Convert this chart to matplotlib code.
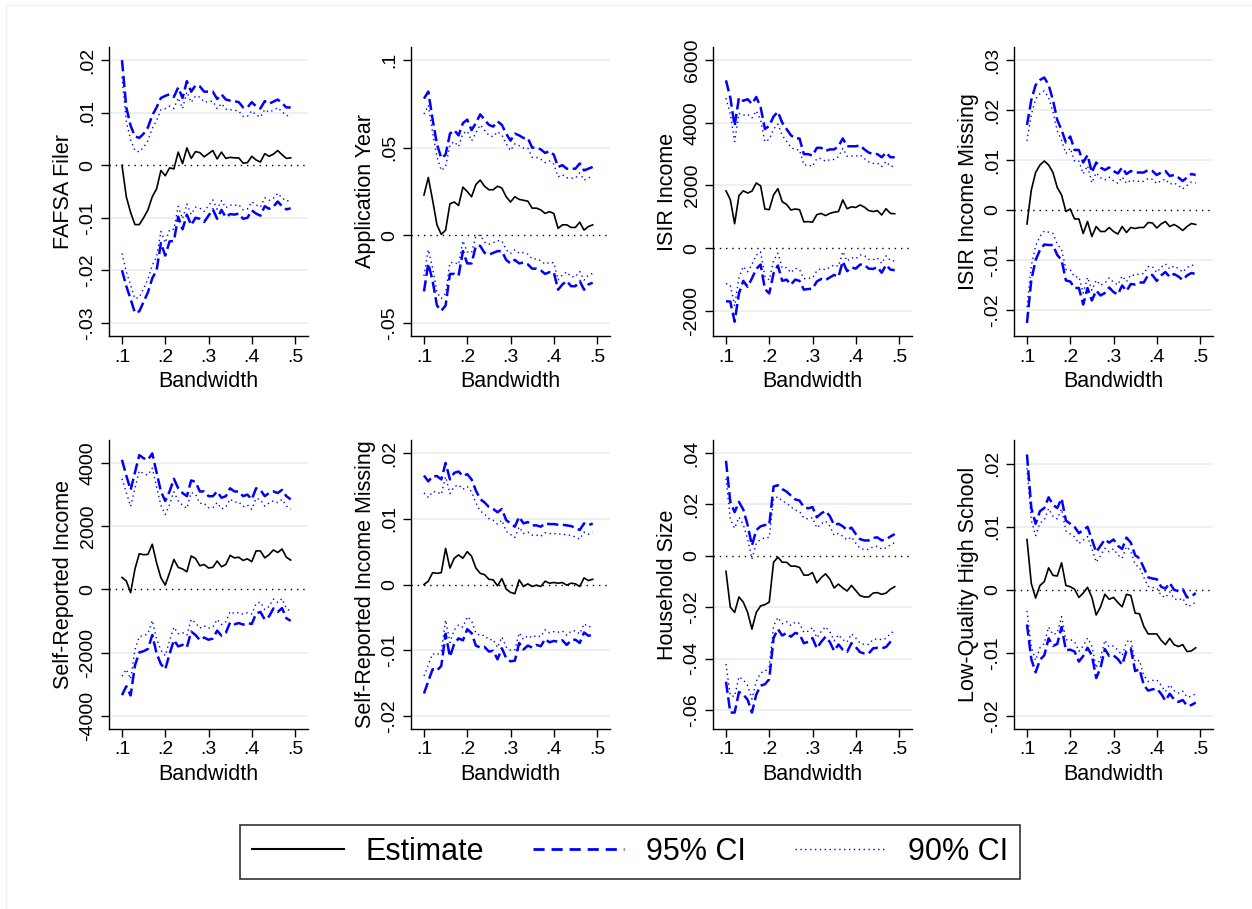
import numpy as np
import matplotlib
matplotlib.use("Agg")
import matplotlib.pyplot as plt
from matplotlib.lines import Line2D
from matplotlib.patches import Rectangle
from matplotlib.ticker import FuncFormatter

matplotlib.rcParams["font.family"] = ["Liberation Sans", "DejaVu Sans"]

BLUE = "#0000ff"
GRID = "#e8f0f2"

bandwidth = [0.10, 0.11, 0.12, 0.13, 0.14, 0.15, 0.16, 0.17, 0.18, 0.19,
             0.20, 0.21, 0.22, 0.23, 0.24, 0.25, 0.26, 0.27, 0.28, 0.29,
             0.30, 0.31, 0.32, 0.33, 0.34, 0.35, 0.36, 0.37, 0.38, 0.39,
             0.40, 0.41, 0.42, 0.43, 0.44, 0.45, 0.46, 0.47, 0.48, 0.49]

# estimate and half-width of the 95% CI
fafsa_est = [0.0, -0.006, -0.009, -0.0113, -0.0113, -0.010, -0.0085, -0.006, -0.0045, -0.001,
             -0.002, -0.0005, -0.0007, 0.0025, 0.0003, 0.0033, 0.0013, 0.0026, 0.0024, 0.0016,
             0.0022, 0.0028, 0.0012, 0.0025, 0.0013, 0.0015, 0.0014, 0.0014, 0.0004, 0.0005,
             0.0017, 0.001, 0.0006, 0.0022, 0.0017, 0.0021, 0.0028, 0.002, 0.0013, 0.0014]
fafsa_hw = [0.020, 0.017, 0.0165, 0.0168, 0.0165, 0.016, 0.0157, 0.0155, 0.0155, 0.0138,
            0.0152, 0.014, 0.0137, 0.0123, 0.0125, 0.0127, 0.0127, 0.0126, 0.0126, 0.0124,
            0.0118, 0.0112, 0.0114, 0.011, 0.0112, 0.0108, 0.0108, 0.0106, 0.0106, 0.0105,
            0.0103, 0.0102, 0.0102, 0.01, 0.01, 0.01, 0.0097, 0.0098, 0.0097, 0.0096]

appyear_est = [0.023, 0.033, 0.020, 0.006, 0.0005, 0.003, 0.018, 0.019, 0.017, 0.0275,
               0.025, 0.022, 0.029, 0.0315, 0.028, 0.026, 0.026, 0.028, 0.027, 0.022,
               0.019, 0.022, 0.0205, 0.020, 0.0195, 0.0155, 0.0155, 0.0145, 0.0125, 0.0135,
               0.0125, 0.004, 0.006, 0.006, 0.0045, 0.0045, 0.0075, 0.003, 0.005, 0.006]
appyear_hw = [0.055, 0.049, 0.046, 0.046, 0.0435, 0.043, 0.040, 0.041, 0.040, 0.0365,
              0.041, 0.038, 0.035, 0.0375, 0.038, 0.037, 0.036, 0.037, 0.036, 0.036,
              0.035, 0.036, 0.0365, 0.0355, 0.036, 0.0345, 0.0345, 0.0345, 0.0345, 0.0345,
              0.0335, 0.035, 0.034, 0.032, 0.0335, 0.0335, 0.0335, 0.034, 0.033, 0.033]

isir_est = [1830, 1550, 780, 1680, 1830, 1760, 1820, 2080, 1990, 1250,
            1230, 1700, 1900, 1480, 1400, 1220, 1250, 1230, 840, 850,
            830, 1070, 1110, 1040, 1110, 1150, 1170, 1540, 1260, 1320,
            1300, 1380, 1310, 1200, 1170, 1200, 1060, 1260, 1110, 1100]
isir_hw = [3520, 3250, 3120, 3120, 2870, 2990, 2780, 2740, 2510, 2550,
           2670, 2500, 2450, 2520, 2400, 2380, 2250, 2270, 2160, 2150,
           2120, 2130, 2090, 2060, 2040, 2000, 2080, 1960, 1990, 1930,
           1950, 1900, 1840, 1850, 1830, 1800, 1840, 1790, 1790, 1800]

isirmiss_est = [-0.0028, 0.004, 0.0075, 0.009, 0.0098, 0.009, 0.0075, 0.0045, 0.003, -0.0003,
                0.0002, -0.0018, -0.0018, -0.0047, -0.0023, -0.0053, -0.0033, -0.0043, -0.0043, -0.0035,
                -0.0043, -0.0048, -0.0033, -0.0045, -0.0035, -0.0037, -0.0035, -0.0035, -0.0025, -0.0026,
                -0.0036, -0.0028, -0.0023, -0.0033, -0.0029, -0.0034, -0.0041, -0.0033, -0.0027, -0.0029]
isirmiss_hw = [0.0198, 0.018, 0.0175, 0.017, 0.0167, 0.016, 0.0145, 0.0135, 0.013, 0.0138,
               0.0145, 0.0138, 0.0138, 0.0142, 0.0133, 0.0128, 0.0128, 0.0128, 0.0123, 0.012,
               0.0121, 0.0121, 0.0118, 0.0117, 0.0113, 0.0112, 0.011, 0.011, 0.0105, 0.0104,
               0.0106, 0.0103, 0.0101, 0.0101, 0.0099, 0.0099, 0.0099, 0.0098, 0.0099, 0.0099]

selfinc_est = [380, 270, -100, 650, 1130, 1100, 1110, 1430, 840, 370,
               140, 530, 950, 700, 650, 560, 1060, 980, 750, 790,
               680, 700, 900, 720, 790, 1080, 1000, 1020, 920, 970,
               880, 1220, 1220, 1000, 1100, 1250, 1170, 1280, 1020, 930]
selfinc_hw = [3720, 3330, 3250, 3050, 3120, 3050, 2990, 2870, 2860, 2730,
              2660, 2570, 2550, 2500, 2400, 2390, 2390, 2420, 2350, 2310,
              2270, 2250, 2200, 2180, 2160, 2120, 2100, 2080, 2030, 2030,
              1970, 1980, 1930, 1950, 1950, 1850, 1880, 1870, 1930, 1920]

selfmiss_est = [0.0, 0.0005, 0.0018, 0.0017, 0.0018, 0.0055, 0.0025, 0.004, 0.0045, 0.004,
                0.005, 0.0043, 0.0025, 0.0017, 0.0015, 0.0008, 0.0007, -0.0002, 0.0009, -0.0007,
                -0.0012, -0.0014, 0.0007, -0.0003, 0.0001, -0.0003, -0.0001, -0.0003, 0.0005, 0.0002,
                0.0003, 0.0002, 0.0003, -0.0001, 0.0002, 0.0001, -0.0003, 0.001, 0.0006, 0.0008]
selfmiss_hw = [0.0166, 0.0152, 0.0147, 0.0148, 0.0142, 0.013, 0.0135, 0.013, 0.0127, 0.0125,
               0.0118, 0.0117, 0.0118, 0.0113, 0.011, 0.011, 0.0108, 0.0112, 0.0106, 0.0105,
               0.0105, 0.0102, 0.0096, 0.0096, 0.0094, 0.0093, 0.0091, 0.0091, 0.0088, 0.009,
               0.0089, 0.0089, 0.0088, 0.0091, 0.0087, 0.0085, 0.0086, 0.0083, 0.0084, 0.0085]

hhsize_est = [-0.006, -0.020, -0.022, -0.016, -0.018, -0.022, -0.0285, -0.022, -0.0195, -0.019,
              -0.018, -0.0025, -0.0005, -0.0025, -0.0025, -0.004, -0.004, -0.0045, -0.0075, -0.0075,
              -0.0065, -0.0105, -0.0085, -0.007, -0.009, -0.0125, -0.011, -0.0125, -0.0137, -0.0115,
              -0.0135, -0.0155, -0.016, -0.016, -0.0145, -0.0143, -0.015, -0.0145, -0.013, -0.012]
hhsize_hw = [0.043, 0.041, 0.039, 0.037, 0.036, 0.034, 0.0325, 0.032, 0.031, 0.031,
             0.030, 0.0295, 0.028, 0.0285, 0.0275, 0.0275, 0.026, 0.026, 0.0265, 0.026,
             0.0255, 0.0255, 0.025, 0.0245, 0.0245, 0.0245, 0.0235, 0.024, 0.0237, 0.0225,
             0.022, 0.022, 0.022, 0.022, 0.0215, 0.0215, 0.021, 0.021, 0.0205, 0.0205]

lowq_est = [0.008, 0.001, -0.0013, 0.0007, 0.0013, 0.0035, 0.0023, 0.0022, 0.0043, 0.0007,
            0.0005, 0.0001, -0.0012, -0.0005, 0.0004, -0.0012, -0.004, -0.0027, -0.0007, -0.0015,
            -0.0012, -0.002, -0.0027, -0.0007, -0.0009, -0.0037, -0.0038, -0.0058, -0.007, -0.007,
            -0.007, -0.008, -0.0087, -0.0077, -0.0087, -0.009, -0.0087, -0.0098, -0.0097, -0.0092]
lowq_hw = [0.0135, 0.012, 0.0118, 0.0118, 0.0117, 0.0112, 0.0112, 0.0108, 0.0102, 0.0103,
           0.01, 0.0099, 0.0102, 0.01, 0.0096, 0.0092, 0.01, 0.0097, 0.0087, 0.009,
           0.0092, 0.009, 0.0092, 0.009, 0.0084, 0.0092, 0.0088, 0.0093, 0.009, 0.0088,
           0.0087, 0.0085, 0.0089, 0.0088, 0.0087, 0.0088, 0.0088, 0.0086, 0.0086, 0.0087]

titles = ["FAFSA Filer", "Application Year", "ISIR Income", "ISIR Income Missing",
          "Self-Reported Income", "Self-Reported Income Missing", "Household Size",
          "Low-Quality High School"]
estimates = [fafsa_est, appyear_est, isir_est, isirmiss_est,
             selfinc_est, selfmiss_est, hhsize_est, lowq_est]
halfwidths = [fafsa_hw, appyear_hw, isir_hw, isirmiss_hw,
              selfinc_hw, selfmiss_hw, hhsize_hw, lowq_hw]
yticks = [[-0.03, -0.02, -0.01, 0, 0.01, 0.02],
          [-0.05, 0, 0.05, 0.1],
          [-2000, 0, 2000, 4000, 6000],
          [-0.02, -0.01, 0, 0.01, 0.02, 0.03],
          [-4000, -2000, 0, 2000, 4000],
          [-0.02, -0.01, 0, 0.01, 0.02],
          [-0.06, -0.04, -0.02, 0, 0.02, 0.04],
          [-0.02, -0.01, 0, 0.01, 0.02]]
ylims = [(-0.0325, 0.0225), (-0.0574, 0.1074), (-2797, 6414), (-0.0252, 0.0326),
         (-4411, 4727), (-0.022, 0.022), (-0.0674, 0.0451), (-0.0221, 0.0238)]
xticks = [0.1, 0.2, 0.3, 0.4, 0.5]

Z95 = 1.96
Z90 = 1.645


def stata_fmt(v, pos=None):
    s = "%g" % round(v, 6)
    if s.startswith("0."):
        s = s[1:]
    elif s.startswith("-0."):
        s = "-" + s[2:]
    return s


W, H = 1252, 909
fig = plt.figure(figsize=(W / 100, H / 100), dpi=100)
fig.patches.append(Rectangle((6 / W, -0.1), 2, (H - 5) / H + 0.1, transform=fig.transFigure,
                             fill=False, edgecolor="#eef3f4", lw=1, zorder=-1))

col_left = [109, 411, 713, 1014]
row_top = [47, 440]
ax_w, ax_h = 199, 289

x = np.array(bandwidth)
for i, title in enumerate(titles):
    r, c = i // 4, i % 4
    ax = fig.add_axes([col_left[c] / W, 1 - (row_top[r] + ax_h) / H, ax_w / W, ax_h / H])
    est = np.array(estimates[i])
    se = np.array(halfwidths[i]) / Z95

    for t in yticks[i]:
        if t != 0:
            ax.axhline(t, color=GRID, lw=1.3, zorder=0)
    ax.axhline(0, color="black", lw=1, linestyle=(0, (1, 3.5)), zorder=1)

    ax.plot(x, est, color="black", lw=1.2, zorder=4)
    ax.plot(x, est + Z95 * se, color=BLUE, lw=1.8, dashes=(4.5, 1.8), zorder=3)
    ax.plot(x, est - Z95 * se, color=BLUE, lw=1.8, dashes=(4.5, 1.8), zorder=3)
    ax.plot(x, est + Z90 * se, color=BLUE, lw=1.0, dashes=(1, 2.5), zorder=2)
    ax.plot(x, est - Z90 * se, color=BLUE, lw=1.0, dashes=(1, 2.5), zorder=2)

    ax.set_xlim(0.07, 0.53)
    ax.set_ylim(*ylims[i])
    ax.set_xticks(xticks)
    ax.set_yticks(yticks[i])
    ax.xaxis.set_major_formatter(FuncFormatter(stata_fmt))
    ax.yaxis.set_major_formatter(FuncFormatter(stata_fmt))
    ax.tick_params(axis="both", direction="out", length=6, width=1, labelsize=14, pad=3)
    for lab in ax.get_yticklabels():
        lab.set_rotation(90)
        lab.set_va("center")
    ax.spines["top"].set_visible(False)
    ax.spines["right"].set_visible(False)
    ax.spines["left"].set_linewidth(1)
    ax.spines["bottom"].set_linewidth(1)
    ax.set_xlabel("Bandwidth", fontsize=15.5, labelpad=4)
    ax.set_ylabel(title, fontsize=15.5, labelpad=4)

handles = [Line2D([], [], color="black", lw=1.5),
           Line2D([], [], color=BLUE, lw=2, dashes=(4, 2.5)),
           Line2D([], [], color=BLUE, lw=1, dashes=(1, 2.5))]
lgd = fig.legend(handles, ["Estimate", "95% CI", "90% CI"], ncol=3, loc="center",
                 bbox_to_anchor=(630 / W, 1 - 852 / H), fontsize=22, frameon=True,
                 fancybox=False, edgecolor="black", handlelength=3.0, handletextpad=0.7,
                 columnspacing=1.6, borderpad=0.4, borderaxespad=0)
lgd.get_frame().set_linewidth(1.2)

plt.savefig("out.png", dpi=100)
